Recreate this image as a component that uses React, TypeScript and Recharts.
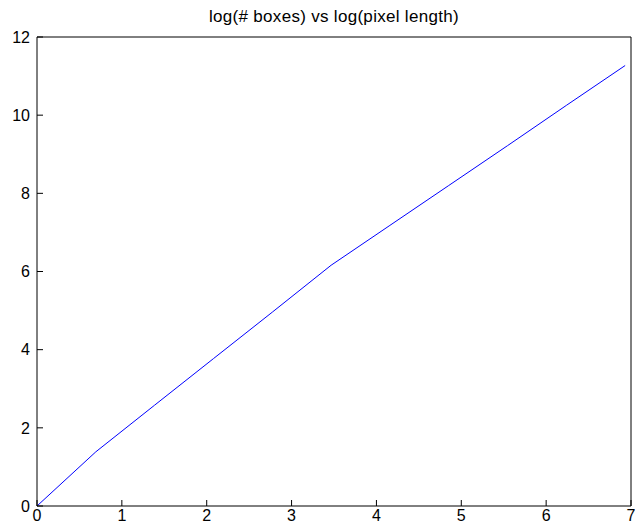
import { LineChart, Line, XAxis, YAxis } from 'recharts'

// log(pixel length), ln(1) .. ln(1024)
const logPixelLength = [0, 0.693, 1.386, 2.079, 2.773, 3.466, 4.159, 4.852, 5.545, 6.238, 6.931]
// log(# boxes)
const logBoxes = [0, 1.386, 2.58, 3.77, 4.96, 6.16, 7.18, 8.2, 9.22, 10.25, 11.27]

const xTicks = [0, 1, 2, 3, 4, 5, 6, 7]
const yTicks = [0, 2, 4, 6, 8, 10, 12]

const title = 'log(# boxes) vs log(pixel length)'

const data = logPixelLength.map((x, i) => ({ x, y: logBoxes[i] }))

const FONT = '"Liberation Sans", Arial, Helvetica, sans-serif'
const tickStyle = { fill: '#000', fontSize: 16, fontFamily: FONT }

export default function App() {
  return (
    <div style={{ position: 'absolute', left: 0, top: 0, width: 635, height: 529, background: '#fff' }}>
      <div
        style={{
          position: 'absolute',
          left: 37,
          top: 7,
          width: 594,
          textAlign: 'center',
          fontFamily: FONT,
          fontSize: 17,
          letterSpacing: 0.3,
          lineHeight: '20px',
          color: '#000'
        }}
      >
        {title}
      </div>
      <LineChart width={635} height={529} data={data} margin={{ top: 36, right: 3, bottom: 0, left: 0 }}>
        <XAxis
          xAxisId="bottom"
          dataKey="x"
          type="number"
          domain={[0, 7]}
          ticks={xTicks}
          interval={0}
          height={23}
          stroke="#000"
          tickSize={-6}
          tickMargin={10}
          tick={tickStyle}
        />
        <XAxis
          xAxisId="top"
          orientation="top"
          dataKey="x"
          type="number"
          domain={[0, 7]}
          ticks={xTicks}
          interval={0}
          height={1}
          stroke="#000"
          tickSize={-6}
          tick={false}
        />
        <YAxis
          yAxisId="left"
          type="number"
          domain={[0, 12]}
          ticks={yTicks}
          interval={0}
          width={37}
          stroke="#000"
          tickSize={-6}
          tickMargin={13}
          tick={tickStyle}
        />
        <YAxis
          yAxisId="right"
          orientation="right"
          type="number"
          domain={[0, 12]}
          ticks={yTicks}
          interval={0}
          width={1}
          stroke="#000"
          tickSize={-6}
          tick={false}
        />
        <Line
          xAxisId="bottom"
          yAxisId="left"
          type="linear"
          dataKey="y"
          stroke="#0000ff"
          strokeWidth={1}
          dot={false}
          isAnimationActive={false}
        />
      </LineChart>
    </div>
  )
}
